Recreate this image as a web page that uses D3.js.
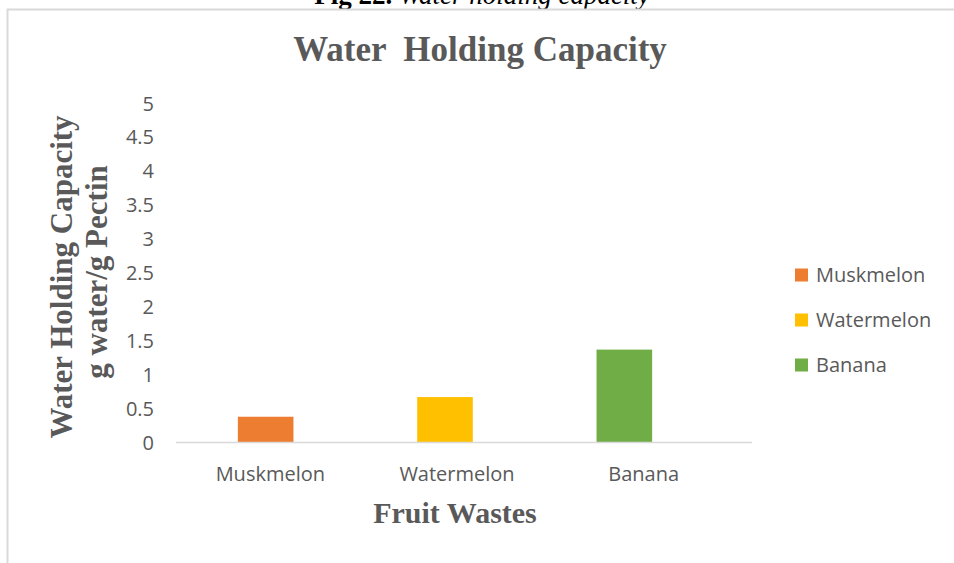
<!DOCTYPE html>
<html>
<head>
<meta charset="utf-8">
<script src="https://cdn.jsdelivr.net/npm/d3@7"></script>
<style>
  html, body { margin: 0; padding: 0; background: #fff; }
  svg { display: block; }
</style>
</head>
<body>
<svg id="chart" width="954" height="563"></svg>
<script>
// Chart data
const fruits = ["Muskmelon", "Watermelon", "Banana"];
const whc = [0.38, 0.67, 1.37];           // g water / g pectin
const barColors = ["#ED7D31", "#FFC000", "#70AD47"];
const yTicks = [0, 0.5, 1, 1.5, 2, 2.5, 3, 3.5, 4, 4.5, 5];

const svg = d3.select("#chart");
const textGray = "#595959";
const serif = "'Liberation Serif', 'Times New Roman', serif";
const sans = "'Open Sans', 'Noto Sans', sans-serif";

// Figure caption partially above the frame
const cap = svg.append("text")
  .attr("x", 482).attr("y", 4)
  .attr("text-anchor", "middle")
  .attr("font-family", serif).attr("font-size", 27).attr("fill", "#000");
cap.append("tspan").attr("font-weight", "bold").text("Fig 22. ");
cap.append("tspan").attr("font-style", "italic").text("Water holding capacity");

// Chart frame
svg.append("rect")
  .attr("x", 7.5).attr("y", 9.5).attr("width", 960).attr("height", 600)
  .attr("fill", "#fff").attr("stroke", "#d9d9d9").attr("stroke-width", 2);

// Scales
const y = d3.scaleLinear().domain([0, 5]).range([442.5, 103.5]);
const xBar = d3.scaleBand().domain(fruits).range([176, 714])
  .paddingInner(0.69).paddingOuter(0.345);
const xLab = d3.scaleBand().domain(fruits).range([177, 737]);

// Title
svg.append("text")
  .attr("x", 480).attr("y", 61)
  .attr("text-anchor", "middle")
  .attr("font-family", serif).attr("font-weight", "bold")
  .attr("font-size", 35).attr("fill", textGray)
  .attr("xml:space", "preserve")
  .text("Water  Holding Capacity");

// Y axis tick labels
svg.append("g")
  .selectAll("text")
  .data(yTicks)
  .join("text")
  .attr("x", 154)
  .attr("y", d => y(d))
  .attr("dy", "0.35em")
  .attr("text-anchor", "end")
  .attr("font-family", sans).attr("font-size", 20).attr("fill", textGray)
  .text(d => String(d));

// Bars
svg.append("g")
  .selectAll("rect")
  .data(fruits)
  .join("rect")
  .attr("x", d => xBar(d))
  .attr("width", xBar.bandwidth())
  .attr("y", (d, i) => y(whc[i]))
  .attr("height", (d, i) => y(0) - y(whc[i]))
  .attr("fill", (d, i) => barColors[i]);

// Category axis line
svg.append("line")
  .attr("x1", 176).attr("x2", 752)
  .attr("y1", y(0)).attr("y2", y(0))
  .attr("stroke", "#d9d9d9").attr("stroke-width", 1.5);

// Category labels
svg.append("g")
  .selectAll("text")
  .data(fruits)
  .join("text")
  .attr("x", d => xLab(d) + xLab.bandwidth() / 2)
  .attr("y", 481)
  .attr("text-anchor", "middle")
  .attr("font-family", sans).attr("font-size", 20).attr("fill", textGray)
  .text(d => d);

// X axis title
svg.append("text")
  .attr("x", 455).attr("y", 523)
  .attr("text-anchor", "middle")
  .attr("font-family", serif).attr("font-weight", "bold")
  .attr("font-size", 30).attr("fill", textGray)
  .text("Fruit Wastes");

// Y axis title (two lines)
const yTitle = ["Water Holding Capacity", "g water/g Pectin"];
svg.append("g")
  .selectAll("text")
  .data(yTitle)
  .join("text")
  .attr("transform", (d, i) => `translate(${i === 0 ? 72 : 107},${i === 0 ? 277 : 272}) rotate(-90)`)
  .attr("text-anchor", "middle")
  .attr("font-family", serif).attr("font-weight", "bold")
  .attr("font-size", 31).attr("fill", textGray)
  .text(d => d);

// Legend
const legend = svg.append("g")
  .selectAll("g")
  .data(fruits)
  .join("g")
  .attr("transform", (d, i) => `translate(795,${275 + i * 45})`);
legend.append("rect")
  .attr("x", 0).attr("y", -6.5).attr("width", 13).attr("height", 13)
  .attr("fill", (d, i) => barColors[i]);
legend.append("text")
  .attr("x", 21).attr("y", 0).attr("dy", "0.35em")
  .attr("font-family", sans).attr("font-size", 20).attr("fill", textGray)
  .text(d => d);
</script>
</body>
</html>
